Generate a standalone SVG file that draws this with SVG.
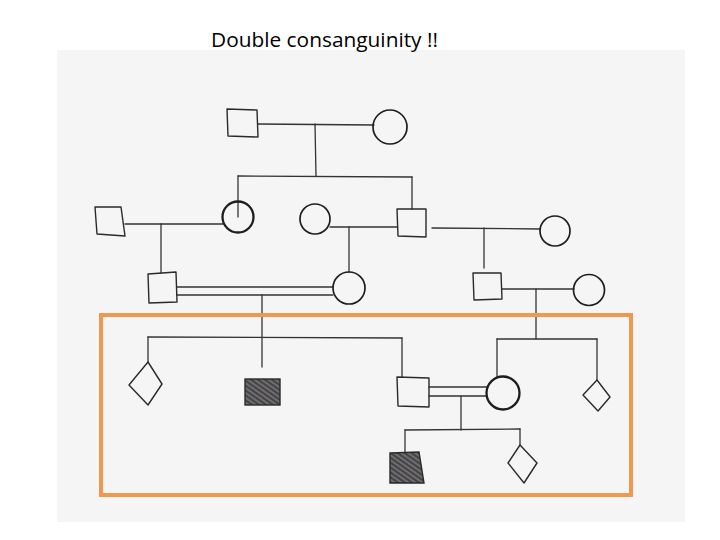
<svg xmlns="http://www.w3.org/2000/svg" width="720" height="540" viewBox="0 0 720 540">
  <defs>
    <pattern id="shade" width="4" height="4" patternUnits="userSpaceOnUse" patternTransform="rotate(35)">
      <rect width="4" height="4" fill="#555"/>
      <line x1="0" y1="1" x2="4" y2="1" stroke="#8a8490" stroke-width="1"/>
      <line x1="0" y1="3" x2="4" y2="3" stroke="#333" stroke-width="1"/>
    </pattern>
    <style>
      .title { font-family: "Open Sans", "Liberation Sans", sans-serif; font-size: 19.5px; fill: #000; }
      .paper { fill: #f5f5f5; }
      .sym { fill: none; stroke: #2a2a2a; stroke-width: 1.4; stroke-linejoin: round; }
      .circ { fill: none; stroke: #1e1e1e; stroke-width: 1.7; }
      .bold { stroke-width: 2.3; }
      .aff { fill: url(#shade); stroke: #2a2a2a; stroke-width: 1.4; }
      .ln { fill: none; stroke: #333; stroke-width: 1.3; stroke-linecap: round; }
      .box { fill: none; stroke: #f0994e; stroke-width: 4; }
    </style>
  </defs>

  <rect x="0" y="0" width="720" height="540" fill="#ffffff"/>
  <rect class="paper" x="57" y="50" width="628" height="472"/>

  <text class="title" x="211" y="47" textLength="227" lengthAdjust="spacingAndGlyphs">Double consanguinity !!</text>

  <g id="connectors">
    <!-- Gen I -->
    <line class="ln" x1="258" y1="124" x2="374" y2="125"/>
    <line class="ln" x1="315" y1="124" x2="316" y2="176"/>
    <line class="ln" x1="238" y1="176" x2="412" y2="177"/>
    <line class="ln" x1="238" y1="176" x2="238" y2="217"/>
    <line class="ln" x1="412" y1="177" x2="412" y2="209"/>
    <!-- Gen II -->
    <line class="ln" x1="125" y1="224" x2="223" y2="224"/>
    <line class="ln" x1="161" y1="224" x2="161" y2="273"/>
    <line class="ln" x1="330" y1="227" x2="397" y2="227"/>
    <line class="ln" x1="349" y1="227" x2="349" y2="272"/>
    <line class="ln" x1="432" y1="228" x2="540" y2="229"/>
    <line class="ln" x1="484" y1="228" x2="484" y2="268"/>
    <!-- Gen III -->
    <line class="ln" x1="177" y1="287" x2="333" y2="287"/>
    <line class="ln" x1="177" y1="295" x2="333" y2="295"/>
    <line class="ln" x1="262" y1="295" x2="262" y2="367"/>
    <line class="ln" x1="502" y1="289" x2="574" y2="289"/>
    <line class="ln" x1="536" y1="289" x2="536" y2="339"/>
    <!-- Gen IV left sibship -->
    <line class="ln" x1="148" y1="337" x2="402" y2="338"/>
    <line class="ln" x1="148" y1="337" x2="148" y2="362"/>
    <line class="ln" x1="402" y1="338" x2="402" y2="377"/>
    <!-- Gen IV right sibship -->
    <line class="ln" x1="497" y1="339" x2="597" y2="339"/>
    <line class="ln" x1="497" y1="339" x2="497" y2="377"/>
    <line class="ln" x1="597" y1="339" x2="597" y2="380"/>
    <!-- Gen IV consanguineous couple -->
    <line class="ln" x1="429" y1="387" x2="487" y2="387"/>
    <line class="ln" x1="429" y1="396" x2="487" y2="396"/>
    <line class="ln" x1="461" y1="396" x2="461" y2="430"/>
    <!-- Gen V sibship -->
    <line class="ln" x1="405" y1="430" x2="520" y2="429"/>
    <line class="ln" x1="405" y1="430" x2="405" y2="453"/>
    <line class="ln" x1="520" y1="429" x2="520" y2="445"/>
  </g>

  <!-- Generation I -->
  <g id="I1"><polygon class="sym" points="227,109 257,110 258,137 228,136"/></g>
  <g id="I2"><circle class="circ" cx="390" cy="127" r="17"/></g>

  <!-- Generation II -->
  <g id="II1"><polygon class="sym" points="95,207 121,207 125,236 97,234"/></g>
  <g id="II2"><circle class="circ bold" cx="238" cy="217" r="15.5"/></g>
  <g id="II3"><circle class="circ" cx="315" cy="219" r="15"/></g>
  <g id="II4"><polygon class="sym" points="397,209 426,209 426,237 398,236"/></g>
  <g id="II5"><circle class="circ" cx="555" cy="231" r="15"/></g>

  <!-- Generation III -->
  <g id="III1"><polygon class="sym" points="148,274 176,272 177,302 149,303"/></g>
  <g id="III2"><circle class="circ" cx="349" cy="288" r="16"/></g>
  <g id="III3"><polygon class="sym" points="473,273 501,273 502,299 474,300"/></g>
  <g id="III4"><circle class="circ" cx="589" cy="290" r="15.5"/></g>

  <!-- Generation IV -->
  <g id="IV1"><polygon class="sym" points="148,362 162,384 148,405 129,385"/></g>
  <g id="IV2"><rect class="aff" x="245" y="379" width="35" height="26"/></g>
  <g id="IV3"><polygon class="sym" points="397,377 429,378 429,407 398,406"/></g>
  <g id="IV4"><circle class="circ bold" cx="503" cy="393" r="16.5"/></g>
  <g id="IV5"><polygon class="sym" points="597,380 610,397 598,411 583,395"/></g>

  <!-- Generation V -->
  <g id="V1"><polygon class="aff" points="390,453 419,452 424,483 390,483"/></g>
  <g id="V2"><polygon class="sym" points="520,445 537,463 524,483 508,463"/></g>

  <rect class="box" x="101" y="315" width="530" height="180"/>
</svg>
